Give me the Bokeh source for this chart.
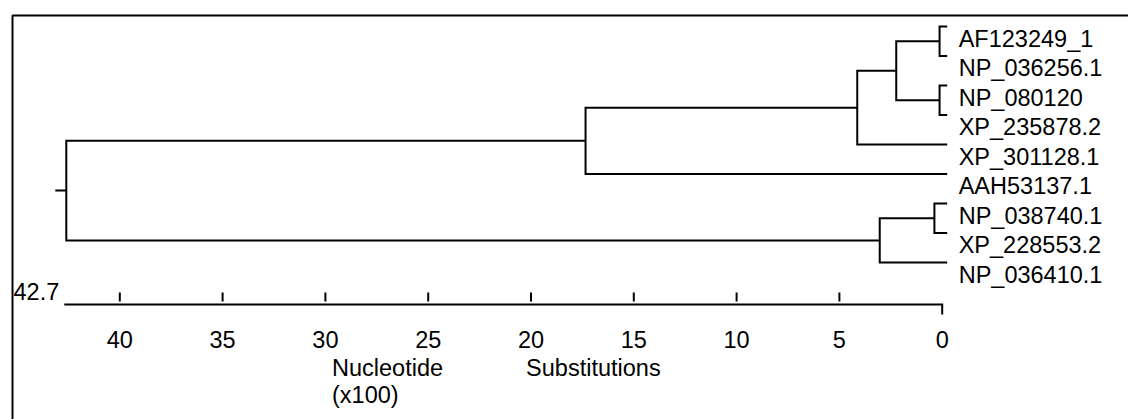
from bokeh.plotting import figure
from bokeh.models import Range1d
from bokeh.core.properties import value
from bokeh.embed import file_html
from bokeh.resources import INLINE

# ---------------- data ----------------
leaf_names = ["AF123249_1", "NP_036256.1", "NP_080120", "XP_235878.2",
              "XP_301128.1", "AAH53137.1", "NP_038740.1", "XP_228553.2",
              "NP_036410.1"]
# linkage (leaves are 0..8, new nodes numbered 9, 10, ...)
merge_left = [0, 2, 9, 11, 12, 6, 14, 13]
merge_right = [1, 3, 10, 4, 5, 7, 8, 15]
merge_height = [0.37, 0.37, 2.47, 4.36, 17.53, 0.62, 3.27, 42.7]
scale_ticks = [40, 35, 30, 25, 20, 15, 10, 5, 0]
scale_max = 42.7
title_word_1 = "Nucleotide"
title_word_2 = "Substitutions"
title_word_3 = "(x100)"

# ---------------- layout / style ----------------
W, H = 1128, 419
FONT = value("Liberation Sans")
FS = "23.5px"
TXT_SHIFT = 9          # compensation for the svg alphabetic baseline
tree_zero_px = 946.7
tree_ppu = 20.63
axis_zero_px = 941.7
axis_ppu = 20.56
leaf_y0 = 26.0
leaf_dy = 29.5
root_stub_px = 11
axis_y = 304

p = figure(width=W, height=H, output_backend="svg", toolbar_location=None,
           x_range=Range1d(0, W), y_range=Range1d(H, 0),
           x_axis_location=None, y_axis_location=None,
           min_border=0, outline_line_color=None)
p.grid.visible = False
p.background_fill_color = "white"
p.border_fill_color = "white"
p.extra_x_ranges = {
    "tree": Range1d(tree_zero_px / tree_ppu, (tree_zero_px - W) / tree_ppu),
    "dist": Range1d(axis_zero_px / axis_ppu, (axis_zero_px - W) / axis_ppu),
}
p.extra_y_ranges = {"leaf": Range1d((H - leaf_y0) / leaf_dy, -leaf_y0 / leaf_dy)}

# frame border (top & left of the original window box)
p.multi_line(xs=[[W + 5, 12, 12]], ys=[[15, 15, H + 5]], line_color="black", line_width=2)

# ---------------- dendrogram ----------------
n = len(leaf_names)
node_y = [float(i) for i in range(n)]
node_h = [0.0] * n
xs, ys = [], []
for l, r, h in zip(merge_left, merge_right, merge_height):
    yl, yr = node_y[l], node_y[r]
    xs.append([node_h[l], h, h, node_h[r]])
    ys.append([yl, yl, yr, yr])
    node_y.append((yl + yr) / 2.0)
    node_h.append(h)
# root stub
xs.append([node_h[-1], node_h[-1] + root_stub_px / tree_ppu])
ys.append([node_y[-1], node_y[-1]])
p.multi_line(xs=xs, ys=ys, x_range_name="tree", y_range_name="leaf",
             line_color="black", line_width=2, line_join="miter")

p.text(x=node_h[:n], y=node_y[:n], text=leaf_names,
       x_range_name="tree", y_range_name="leaf",
       x_offset=11.5, y_offset=21 - TXT_SHIFT, text_align="left", text_baseline="alphabetic",
       text_font=FONT, text_font_size=FS, text_color="black")

# ---------------- scale bar ----------------
p.multi_line(xs=[[scale_max, 0, 0]], ys=[[axis_y, axis_y, axis_y + 10]],
             x_range_name="dist", line_color="black", line_width=2, line_join="miter")
inner = [t for t in scale_ticks if t != 0]
p.segment(x0=inner, y0=[axis_y - 12] * len(inner), x1=inner, y1=[axis_y - 3] * len(inner),
          x_range_name="dist", line_color="black", line_width=2)
p.text(x=scale_ticks, y=[axis_y + 44 - TXT_SHIFT] * len(scale_ticks),
       text=[str(t) for t in scale_ticks],
       x_range_name="dist", text_align="center", text_baseline="alphabetic",
       text_font=FONT, text_font_size=FS, text_color="black")
p.text(x=[scale_max], y=[axis_y - 4 - TXT_SHIFT], text=[str(scale_max)], x_range_name="dist",
       x_offset=-5, text_align="right", text_baseline="alphabetic",
       text_font=FONT, text_font_size=FS, text_color="black")

p.text(x=[331.5, 525.6, 331.5],
       y=[376.7 - TXT_SHIFT, 376.7 - TXT_SHIFT, 403.5 - TXT_SHIFT],
       text=[title_word_1, title_word_2, title_word_3],
       text_align="left", text_baseline="alphabetic",
       text_font=FONT, text_font_size=FS, text_color="black")

open("out.html", "w").write(file_html(p, INLINE))
